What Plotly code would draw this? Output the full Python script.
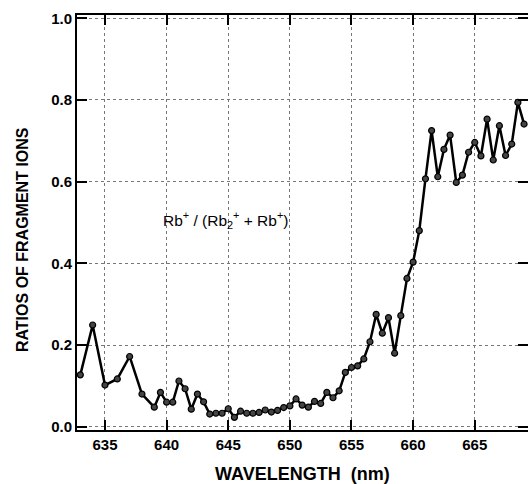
import plotly.graph_objects as go

wavelength = [633, 634, 635, 636, 637, 638, 639, 639.5, 640, 640.5, 641, 641.5, 642, 642.5,
              643, 643.5, 644, 644.5, 645, 645.5, 646, 646.5, 647, 647.5, 648, 648.5, 649,
              649.5, 650, 650.5, 651, 651.5, 652, 652.5, 653, 653.5, 654, 654.5, 655, 655.5,
              656, 656.5, 657, 657.5, 658, 658.5, 659, 659.5, 660, 660.5, 661, 661.5, 662,
              662.5, 663, 663.5, 664, 664.5, 665, 665.5, 666, 666.5, 667, 667.5, 668, 668.5, 669]
ratio = [0.127, 0.249, 0.102, 0.117, 0.172, 0.080, 0.048, 0.084, 0.060, 0.060, 0.112, 0.093,
         0.043, 0.080, 0.061, 0.031, 0.033, 0.033, 0.044, 0.023, 0.038, 0.033, 0.033, 0.035,
         0.041, 0.036, 0.040, 0.047, 0.051, 0.068, 0.053, 0.048, 0.062, 0.057, 0.084, 0.071,
         0.088, 0.133, 0.145, 0.149, 0.166, 0.208, 0.275, 0.229, 0.267, 0.180, 0.272, 0.363,
         0.403, 0.480, 0.607, 0.725, 0.612, 0.679, 0.714, 0.598, 0.616, 0.672, 0.696, 0.663,
         0.753, 0.653, 0.737, 0.664, 0.692, 0.794, 0.741]

x_ticks = [635, 640, 645, 650, 655, 660, 665]
y_ticks = [0.0, 0.2, 0.4, 0.6, 0.8, 1.0]
y_tick_labels = ["0.0", "0.2", "0.4", "0.6", "0.8", "1.0"]

FONT = "Liberation Sans, Arial, sans-serif"

fig = go.Figure()
fig.add_trace(go.Scatter(
    x=wavelength, y=ratio, mode="lines+markers",
    line=dict(color="black", width=2.5),
    marker=dict(symbol="circle", size=6, color="#444", line=dict(color="black", width=1.2)),
    cliponaxis=True, showlegend=False, hoverinfo="skip"))
# invisible trace to carry the right-hand tick axis
fig.add_trace(go.Scatter(x=wavelength, y=ratio, yaxis="y2", mode="lines",
                         line=dict(width=0), opacity=0, showlegend=False, hoverinfo="skip"))

fig.update_layout(
    width=528, height=484,
    margin=dict(l=77, r=0, t=15, b=54),
    paper_bgcolor="white", plot_bgcolor="white",
    font=dict(family=FONT, color="black"),
    xaxis=dict(range=[632.73, 669.32], tickvals=x_ticks, ticks="inside", ticklen=10,
               tickwidth=2, tickcolor="black", showline=True, linewidth=2, linecolor="black",
               mirror="ticks", showgrid=True, gridcolor="#777", griddash="dot", gridwidth=1,
               zeroline=False,
               tickfont=dict(family=FONT, size=15, color="black", weight="bold")),
    yaxis=dict(range=[-0.008, 1.008], tickvals=y_ticks, ticktext=y_tick_labels,
               ticks="inside", ticklen=10, tickwidth=2, tickcolor="black",
               showline=True, linewidth=2, linecolor="black", mirror=False,
               showgrid=True, gridcolor="#777", griddash="dot", gridwidth=1, zeroline=False,
               tickfont=dict(family=FONT, size=15, color="black", weight="bold")),
    yaxis2=dict(range=[-0.008, 1.008], overlaying="y", side="right", tickvals=y_ticks,
                ticks="inside", ticklen=10, tickwidth=2, tickcolor="black",
                showline=False, showgrid=False, showticklabels=False, zeroline=False),
    annotations=[
        dict(text="RATIOS OF FRAGMENT IONS", xref="paper", yref="paper",
             x=-0.122, y=0.46, textangle=-90, showarrow=False,
             font=dict(family=FONT, size=16, color="black", weight="bold"),
             xanchor="center", yanchor="middle"),
        dict(text="WAVELENGTH  (nm)", xref="paper", yref="paper",
             x=0.5, y=-0.105, showarrow=False,
             font=dict(family=FONT, size=18, color="black", weight="bold"),
             xanchor="center", yanchor="middle"),
        dict(text="Rb<sup>+</sup> / (Rb<sub>2</sub><sup>+</sup> + Rb<sup>+</sup>)",
             x=644.8, y=0.505, xref="x", yref="y", showarrow=False,
             font=dict(family=FONT, size=15.5, color="black"),
             xanchor="center", yanchor="middle"),
    ],
)

fig.write_html("out.html")
